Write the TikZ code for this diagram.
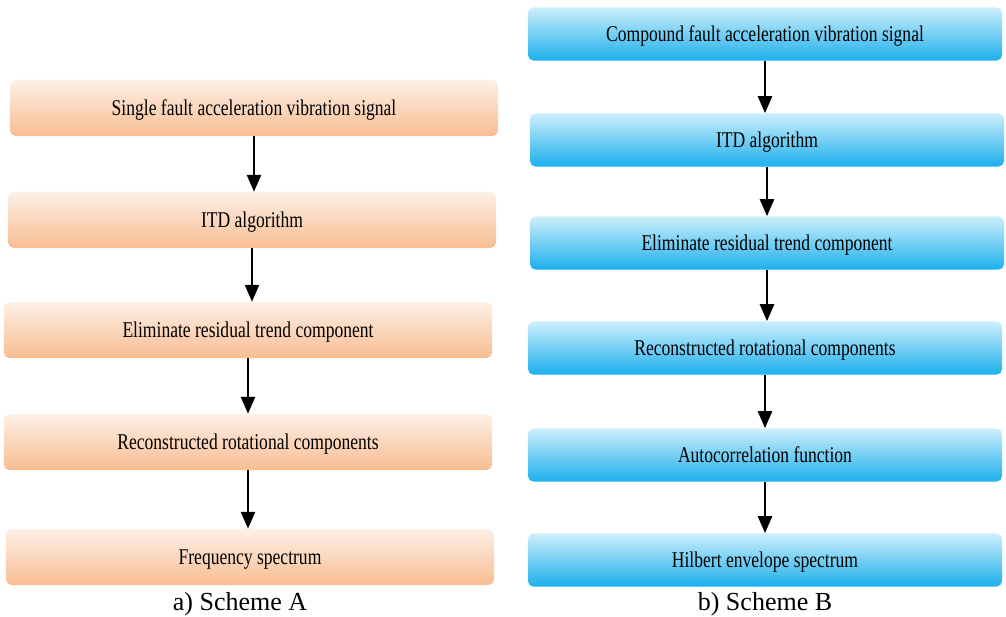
\documentclass[tikz,border=0pt]{standalone}
\usepackage{fontspec}
\setmainfont{Liberation Serif}
\newfontfamily\boxfont[FakeStretch=0.78]{Liberation Serif}
\usetikzlibrary{arrows.meta}

\begin{document}
\begin{tikzpicture}
[x=0.025cm,y=-0.025cm,
  orangeBox/.style={shape=rectangle,rounded corners=4pt,top color=orangeTop,
    bottom color=orangeBot,minimum width=12.2cm,minimum height=1.4cm,
    text depth=0pt,font=\boxfont\fontsize{16}{18}\selectfont},%
  blueBox/.style={shape=rectangle,rounded corners=4pt,top color=blueTop,
    bottom color=blueBot,minimum width=11.85cm,minimum height=1.33cm,
    text depth=0pt,font=\boxfont\fontsize{16}{18}\selectfont},%
  arrowDecorate/.style={-{Triangle[width=10pt,length=12pt]},line width=1.6pt},
  captionText/.style={font=\fontsize{18.5}{20}\selectfont}]
\definecolor{orangeTop}{HTML}{FDF0E7}
\definecolor{orangeBot}{HTML}{F8BD92}
\definecolor{blueTop}{HTML}{CDEFFC}
\definecolor{blueBot}{HTML}{1CAFEC}
\useasboundingbox (0,0) rectangle (1006,617);
%% scheme A
\foreach \nodename/\x/\y/\txt in {
  a1/254/108/Single fault acceleration vibration signal,
  a2/252/220/ITD algorithm,
  a3/248/330/Eliminate residual trend component,
  a4/248/442/Reconstructed rotational components,
  a5/250/557/Frequency spectrum}
{
  \node (\nodename) at (\x,\y) [orangeBox] {\txt};
}
%% scheme B
\foreach \nodename/\x/\y/\txt in {
  b1/765/34/Compound fault acceleration vibration signal,
  b2/767/140/ITD algorithm,
  b3/767/243/Eliminate residual trend component,
  b4/765/348/Reconstructed rotational components,
  b5/765/455/Autocorrelation function,
  b6/765/560/Hilbert envelope spectrum}
{
  \node (\nodename) at (\x,\y) [blueBox] {\txt};
}
%% captions
\node (capA) at (240,604) [captionText] {a) Scheme A};
\node (capB) at (765,604) [captionText] {b) Scheme B};
%% arrows
\path
\foreach \startnode/\endnode in {a1/a2, a2/a3, a3/a4, a4/a5,
  b1/b2, b2/b3, b3/b4, b4/b5, b5/b6}
{
  (\startnode.south) edge[arrowDecorate] (\startnode.south |- \endnode.north)
};
\end{tikzpicture}
\end{document}
